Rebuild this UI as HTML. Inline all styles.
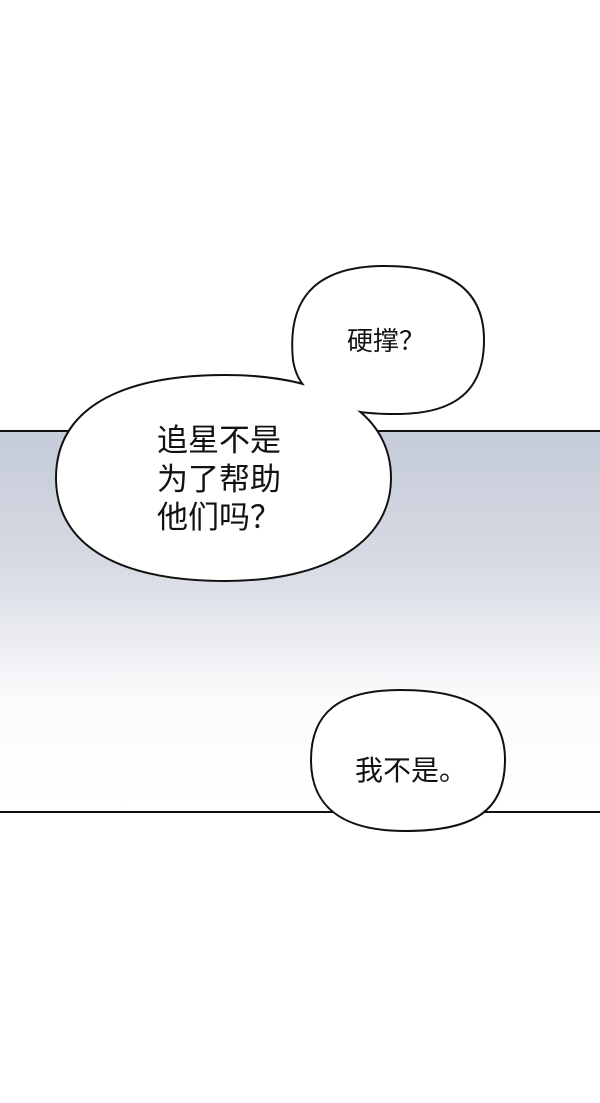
<!DOCTYPE html>
<html><head><meta charset="utf-8"><style>
html,body{margin:0;padding:0;background:#fff;}
svg{display:block}
text{font-family:"Noto Sans CJK SC",sans-serif;fill:#111}
</style></head><body>
<svg width="600" height="1103" viewBox="0 0 600 1103" xmlns="http://www.w3.org/2000/svg">
<defs>
<linearGradient id="g" x1="0" y1="0" x2="0" y2="1">
<stop offset="0" stop-color="#c5cbd9"/>
<stop offset="0.35" stop-color="#d6dae3"/>
<stop offset="0.7" stop-color="#fbfbfc"/>
<stop offset="1" stop-color="#ffffff"/>
</linearGradient>
</defs>
<rect x="0" y="431" width="600" height="381" fill="url(#g)"/>
<line x1="0" y1="431" x2="600" y2="431" stroke="#111" stroke-width="2"/>
<line x1="0" y1="812" x2="600" y2="812" stroke="#111" stroke-width="2"/>

<g stroke="#111" stroke-width="4" fill="#fff">
<path d="M385,267 C455,267 483,295 483,340 C483,390 455,412 400,413 C340,414 300,400 294,360 C288,300 315,267 385,267 Z"/>
<path d="M225,376 C330,376 390,415 390,478 C390,545 320,580 225,580 C120,580 57,545 57,478 C57,410 120,376 225,376 Z"/>
</g>
<g fill="#fff">
<path d="M385,267 C455,267 483,295 483,340 C483,390 455,412 400,413 C340,414 300,400 294,360 C288,300 315,267 385,267 Z"/>
<path d="M225,376 C330,376 390,415 390,478 C390,545 320,580 225,580 C120,580 57,545 57,478 C57,410 120,376 225,376 Z"/>
</g>

<path d="M400,690 C475,690 505,715 505,760 C505,810 475,831 405,831 C340,831 311,805 311,760 C311,712 340,690 400,690 Z" fill="#fff" stroke="#111" stroke-width="2"/>

<text x="347" y="350" font-size="26">硬撑？</text>
<text x="157" y="451" font-size="31">追星不是</text>
<text x="157" y="490" font-size="31">为了帮助</text>
<text x="157" y="528" font-size="31">他们吗？</text>
<text x="355" y="780" font-size="28">我不是。</text>
</svg>
</body></html>
